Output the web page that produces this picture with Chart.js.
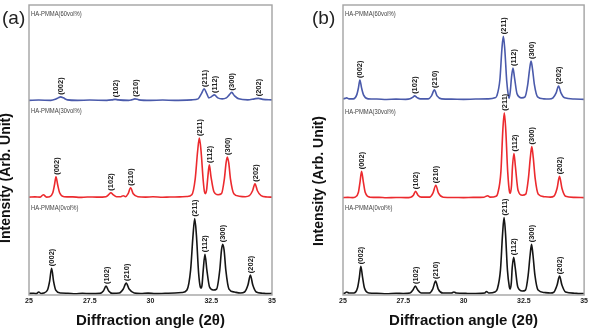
<!DOCTYPE html>
<html><head><meta charset="utf-8">
<script src="https://cdn.jsdelivr.net/npm/chart.js@4.4.1/dist/chart.umd.min.js"></script>
<style>
html,body{margin:0;padding:0;background:#fff;}
#wrap{position:relative;width:590px;height:333px;overflow:hidden;}
canvas{position:absolute;top:0;}
#ca{left:0;} #cb{left:295px;}
</style></head>
<body><div id="wrap"><canvas id="ca" width="295" height="333"></canvas><canvas id="cb" width="295" height="333"></canvas></div>
<script>
// ---------- shared text / categories ----------
const panelNames = ["(a)", "(b)"];
const seriesNames = ["HA-PMMA(0vol%)", "HA-PMMA(30vol%)", "HA-PMMA(60vol%)"];
const seriesColors = ["#151515", "#ec2a2e", "#4a5aab"];
const peakNames = ["(002)", "(102)", "(210)", "(211)", "(112)", "(300)", "(202)"];
const xTicks = [25, 27.5, 30, 32.5, 35];
const xTitle = "Diffraction angle (2\u03b8)";
const yTitle = "Intensity (Arb. Unit)";

// ---------- panel (a) traces: [2theta, intensity above own baseline] ----------
const a_0vol = [[25.0,1.5],[25.2,1.8],[25.3,1.4],[25.4,3],[25.5,1.5],
 [25.6,2],[25.76,5],[25.85,14],[25.93,27],[26.01,14],[26.1,5],[26.3,2],
 [26.6,1.8],[26.9,1.3],[27.2,1.7],[27.5,1.4],
 [27.92,1.6],[28.06,4],[28.17,9],[28.28,4],[28.43,1.6],
 [28.72,2],[28.88,6],[29.0,12],[29.12,6],[29.33,2],
 [29.6,1.5],[29.9,1.9],[30.2,1.4],[30.6,1.7],[31.0,2],[31.3,2.5],
 [31.5,5],[31.65,25],[31.75,60],[31.82,77],[31.89,60],[31.98,22],[32.05,8],[32.08,7],
 [32.12,10],[32.17,25],[32.24,41],[32.32,25],[32.43,8],[32.58,5],
 [32.72,6],[32.85,25],[32.92,45],[32.97,51],[33.03,45],[33.1,25],[33.23,6],[33.45,3],[33.7,2],
 [33.87,3],[34.01,10],[34.11,20],[34.21,10],[34.35,3],[34.6,1.8],[34.8,1.4],[35.0,1.6]];
const a_30vol = [[25.0,1.5],[25.25,1.8],[25.45,1.5],[25.59,4],[25.72,1.6],
 [25.85,2],[25.98,6],[26.05,14],[26.11,22],[26.18,14],[26.26,6],[26.44,2],
 [26.8,1.8],[27.1,1.3],[27.4,1.7],[27.8,1.5],
 [28.17,2],[28.28,4],[28.37,6],[28.46,4],[28.6,2],[28.78,2],[28.88,3],
 [28.97,2],[29.08,5],[29.18,11],[29.29,5],[29.48,2],
 [29.8,1.6],[30.1,1.9],[30.5,1.4],[30.8,1.7],[31.2,1.8],[31.5,2.2],
 [31.7,4],[31.84,20],[31.94,48],[32.01,61],[32.08,48],[32.17,18],[32.22,7],[32.26,5],
 [32.31,9],[32.36,22],[32.42,34],[32.49,22],[32.61,7],[32.78,4],
 [32.92,5],[33.04,20],[33.11,36],[33.16,42],[33.22,36],[33.29,20],[33.43,5],[33.65,2.5],
 [33.9,2],[34.07,3],[34.2,8],[34.30,15],[34.4,8],[34.55,3],[34.8,1.7],[35.0,1.5]];
const a_60vol = [[25.0,1.5],[25.4,1.8],[25.9,1.5],[26.08,2.5],[26.2,4],[26.30,5],[26.41,4],[26.58,2],
 [27.0,1.5],[27.5,1.8],[28.2,1.5],[28.42,2],[28.54,2.5],[28.67,2],[29.1,1.5],[29.22,2],[29.36,3],[29.52,2],
 [30.0,1.5],[30.5,1.8],[31.0,1.5],[31.7,2],
 [31.96,3],[32.09,8],[32.21,13],[32.32,8],[32.4,4],[32.5,5],[32.63,7],[32.77,4],[32.95,3],
 [33.12,4],[33.24,7],[33.34,9.5],[33.46,6],[33.63,3],
 [34.0,2],[34.28,3],[34.44,3.5],[34.62,2.5],[35.0,2]];
const a_peakPos = [
 [25.93,28.17,29.0,31.82,32.24,32.97,34.11],
 [26.11,28.37,29.18,32.01,32.42,33.16,34.30],
 [26.30,28.54,29.36,32.21,32.63,33.34,34.44]];
const a_peakTop = [
 [27,9,12,77,41,51,20],
 [22,6,11,61,34,42,15],
 [5,2.5,3,13,7,9.5,3.5]];
const a_offsets = [0, 97, 194.5];

// ---------- panel (b) traces ----------
const b_0vol = [[25.0,1.5],[25.08,2],[25.15,3],[25.25,2],
 [25.45,2],[25.6,7],[25.68,18],[25.74,29],[25.81,18],[25.89,7],[26.08,2],
 [26.4,1.8],[26.8,1.3],[27.2,1.7],[27.5,1.5],
 [27.78,2],[27.9,5],[28.0,9],[28.1,5],[28.25,2],
 [28.58,2],[28.72,6],[28.84,14],[28.95,6],[29.14,2],
 [29.5,2],[29.6,3],[29.7,2],[30.1,1.6],[30.5,1.5],[30.88,2],[30.95,3.5],[31.05,2],[31.3,3],
 [31.4,6],[31.53,25],[31.62,62],[31.68,78],[31.74,62],[31.82,25],[31.9,8],[31.93,6],
 [31.98,12],[32.02,28],[32.08,38],[32.14,28],[32.25,8],[32.43,4],
 [32.57,5],[32.68,20],[32.76,40],[32.82,51],[32.88,40],[32.96,20],[33.09,5],[33.35,2.5],
 [33.6,2],[33.75,3],[33.88,10],[33.98,19],[34.08,10],[34.23,3],[34.6,1.8],[34.8,1.4],[35.0,1.5]];
const b_30vol = [[25.0,1.5],[25.2,1.8],[25.4,1.5],
 [25.5,2],[25.64,7],[25.71,18],[25.77,28],[25.84,18],[25.92,7],[26.12,2],
 [26.5,1.8],[26.8,1.4],[27.2,1.7],[27.6,1.5],
 [27.81,2],[27.92,4],[28.01,8],[28.11,4],[28.25,2],
 [28.59,2],[28.73,6],[28.85,14],[28.96,6],[29.16,2],
 [29.6,1.7],[30.0,1.5],[30.4,1.8],[30.85,2],[31.0,3.5],[31.1,2],[31.35,3],
 [31.42,6],[31.55,28],[31.63,70],[31.69,87],[31.75,70],[31.83,28],[31.91,7],[31.94,6],
 [31.99,14],[32.03,33],[32.09,46],[32.15,33],[32.26,9],[32.44,4],
 [32.58,5],[32.69,21],[32.77,42],[32.83,53],[32.89,42],[32.97,21],[33.1,5],[33.35,2.5],
 [33.6,2],[33.75,3],[33.88,11],[33.98,23],[34.08,11],[34.23,3],[34.6,1.8],[35.0,1.5]];
const b_60vol = [[25.0,2],[25.08,2.5],[25.15,3],[25.25,2],
 [25.43,2],[25.57,6],[25.64,13],[25.70,21],[25.77,13],[25.85,6],[26.04,2],
 [26.4,1.8],[26.8,1.4],[27.2,1.7],[27.6,1.5],
 [27.78,2],[27.89,3.5],[27.97,5],[28.06,3.5],[28.21,2],
 [28.54,2],[28.67,5],[28.79,11],[28.9,5],[29.09,2],
 [29.5,1.7],[30.0,1.5],[30.5,1.8],[31.0,2],[31.3,3],
 [31.38,5],[31.51,22],[31.59,52],[31.65,65],[31.71,52],[31.79,20],[31.86,5],[31.89,2.5],
 [31.94,10],[31.99,24],[32.05,33],[32.11,24],[32.22,7],[32.41,3],
 [32.55,4],[32.66,16],[32.74,32],[32.80,40],[32.86,32],[32.94,16],[33.07,4],[33.33,2],
 [33.55,1.8],[33.71,3],[33.84,8],[33.94,15],[34.04,8],[34.19,3],[34.6,1.8],[35.0,1.5]];
const b_peakPos = [
 [25.74,28.0,28.84,31.68,32.08,32.82,33.98],
 [25.77,28.01,28.85,31.69,32.09,32.83,33.98],
 [25.70,27.97,28.79,31.65,32.05,32.80,33.94]];
const b_peakTop = [
 [29,9,14,78,38,51,19],
 [28,8,14,87,46,53,23],
 [21,5,11,65,33,40,15]];
const b_offsets = [0, 96.5, 195.5];

// ---------- plugin: frame, peak labels, series names, titles ----------
const decorPlugin = {
  id: 'decor',
  afterDatasetsDraw(chart, args, opts) {
    const ctx = chart.ctx, ca = chart.chartArea;
    const xs = chart.scales.x, ys = chart.scales.y;
    ctx.save();
    ctx.strokeStyle = '#a3a3a3'; ctx.lineWidth = 1.4;
    ctx.strokeRect(ca.left, ca.top, ca.right - ca.left, ca.bottom - ca.top);
    ctx.fillStyle = '#222';
    ctx.font = 'bold 7.5px "Liberation Sans", Arial, sans-serif';
    ctx.textAlign = 'left'; ctx.textBaseline = 'middle';
    opts.peakPos.forEach((arr, s) => {
      arr.forEach((p, i) => {
        const px = xs.getPixelForValue(p);
        const py = ys.getPixelForValue(opts.offsets[s] + opts.peakTop[s][i]) - 2;
        ctx.save(); ctx.translate(px, py); ctx.rotate(-Math.PI / 2);
        ctx.fillText(peakNames[i], 0, 0.5); ctx.restore();
      });
    });
    ctx.fillStyle = '#444';
    ctx.font = '7.5px "Liberation Sans", Arial, sans-serif';
    ctx.textAlign = 'left'; ctx.textBaseline = 'middle';
    seriesNames.forEach((n, s) => {
      const py = ys.getPixelForValue(opts.offsets[s] + 88);
      ctx.save(); ctx.translate(ca.left + 2, py); ctx.scale(0.78, 1);
      ctx.fillText(n, 0, 0); ctx.restore();
    });
    ctx.fillStyle = '#222';
    ctx.font = '19px "Liberation Sans", Arial, sans-serif';
    ctx.textBaseline = 'middle'; ctx.textAlign = 'left';
    ctx.fillText(opts.letter, opts.letterX, 19);
    ctx.font = 'bold 14px "Liberation Sans", Arial, sans-serif';
    ctx.fillStyle = '#111'; ctx.textAlign = 'center';
    ctx.save(); ctx.translate(opts.yTitleX, opts.yTitleY); ctx.rotate(-Math.PI / 2);
    ctx.fillText(yTitle, 0, 0); ctx.restore();
    ctx.restore();
  }
};

function makeChart(id, traces, offsets, peakPos, peakTop, pad, letter, letterX, yTitleX, yTitleY) {
  const datasets = traces.map((t, s) => ({
    data: t.map(p => [p[0], p[1] + offsets[s]]),
    borderColor: seriesColors[s], borderWidth: 1.6,
    pointRadius: 0, fill: false, tension: 0,
    cubicInterpolationMode: 'monotone'
  }));
  return new Chart(document.getElementById(id), {
    type: 'line',
    data: { datasets },
    plugins: [decorPlugin],
    options: {
      responsive: false, animation: false, devicePixelRatio: 1,
      layout: { padding: pad },
      plugins: { legend: { display: false }, tooltip: { enabled: false },
        decor: { offsets, peakPos, peakTop, letter, letterX, yTitleX, yTitleY } },
      scales: {
        x: { type: 'linear', min: 25, max: 35,
          afterBuildTicks: sc => { sc.ticks = xTicks.map(v => ({ value: v })); },
          grid: { display: false, drawTicks: false }, border: { display: false },
          ticks: { padding: 2, maxRotation: 0, autoSkip: false, color: '#222',
            font: { size: 7, weight: 'bold', family: '"Liberation Sans", Arial, sans-serif' },
            callback: v => String(v) },
          title: { display: true, text: xTitle, color: '#111', padding: { top: 4, bottom: 0 },
            font: { size: 15, weight: 'bold', family: '"Liberation Sans", Arial, sans-serif', lineHeight: 1.2 } }
        },
        y: { display: false, min: 0, max: 292 }
      }
    }
  });
}

makeChart('ca', [a_0vol, a_30vol, a_60vol], a_offsets, a_peakPos, a_peakTop,
  { left: 29, right: 23, top: 5, bottom: 3.6 }, panelNames[0], 2, 6, 178);
makeChart('cb', [b_0vol, b_30vol, b_60vol], b_offsets, b_peakPos, b_peakTop,
  { left: 48, right: 4, top: 5, bottom: 3.6 }, panelNames[1], 17, 24, 181);
</script></body></html>
